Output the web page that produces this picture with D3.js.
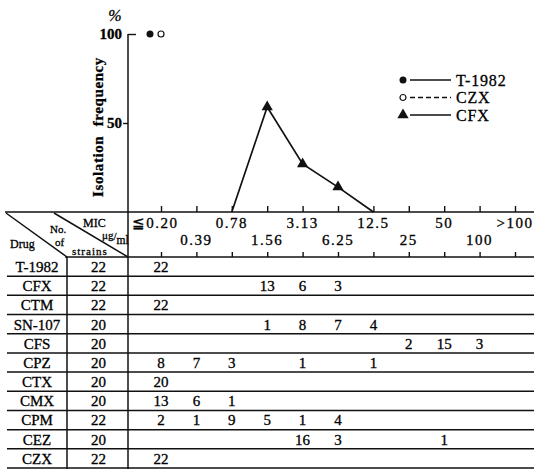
<!DOCTYPE html>
<html>
<head>
<meta charset="utf-8">
<script src="https://cdn.jsdelivr.net/npm/d3@7"></script>
<style>
  body { margin: 0; background: #fff; }
  text { font-family: "Liberation Serif", "Times New Roman", serif; fill: #000; stroke: #000; stroke-width: 0.3px; }
</style>
</head>
<body>
<div id="svg"></div>
<script>
const width = 534,
      height = 469;

// MIC classes (ug/ml)
const mics = ["≦0.20", "0.39", "0.78", "1.56", "3.13", "6.25", "12.5", "25", "50", "100", ">100"];

const drugs = ["T-1982", "CFX", "CTM", "SN-107", "CFS", "CPZ", "CTX", "CMX", "CPM", "CEZ", "CZX"];
const strains = [22, 22, 22, 20, 20, 20, 20, 20, 22, 20, 22];

// number of strains per MIC class, one row per drug (null = blank)
const counts = [
  [22, null, null, null, null, null, null, null, null, null, null],
  [null, null, null, 13, 6, 3, null, null, null, null, null],
  [22, null, null, null, null, null, null, null, null, null, null],
  [null, null, null, 1, 8, 7, 4, null, null, null, null],
  [null, null, null, null, null, null, null, 2, 15, 3, null],
  [8, 7, 3, null, 1, null, 1, null, null, null, null],
  [20, null, null, null, null, null, null, null, null, null, null],
  [13, 6, 1, null, null, null, null, null, null, null, null],
  [2, 1, 9, 5, 1, 4, null, null, null, null, null],
  [null, null, null, null, 16, 3, null, null, 1, null, null],
  [22, null, null, null, null, null, null, null, null, null, null]
];

// isolation frequency (%) plotted above the table
const t1982Mic = ["≦0.20"],
      t1982Pct = [100];
const czxMic = ["≦0.20"],
      czxPct = [100];
const cfxMic = ["0.78", "1.56", "3.13", "6.25", "12.5"],
      cfxPct = [0, 59, 27, 14, 0];

const yTicks = [50, 100];
const legendNames = ["T-1982", "CZX", "CFX"];

const svg = d3.select("#svg")
  .append("svg")
    .attr("width", width)
    .attr("height", height);

svg.append("rect")
    .attr("width", width)
    .attr("height", height)
    .attr("fill", "#fff");

const x = d3.scalePoint()
    .domain(mics)
    .range([161, 515]);

const y = d3.scaleLinear()
    .domain([0, 100])
    .range([212, 34]);

const row = d3.scaleBand()
    .domain(drugs)
    .range([257, 468]);

const axisX = 128,
      col1 = 67;

// ---- y axis
const yAxis = svg.append("g")
    .attr("transform", `translate(${axisX},0)`)
    .call(d3.axisLeft(y).tickValues(yTicks).tickSize(5).tickPadding(1).tickFormat(d3.format("d")));
yAxis.select(".domain").remove();
yAxis.selectAll("line").attr("stroke", "#111").attr("stroke-width", 1.4);
yAxis.selectAll(".tick").filter(d => d === 100).select("line").attr("x2", 8);
yAxis.selectAll("text")
    .attr("fill", "#000")
    .style("font-size", "15px")
    .style("font-weight", "bold")
    .style("font-family", "Liberation Serif");

svg.append("text")
    .attr("x", 115)
    .attr("y", 21)
    .attr("text-anchor", "middle")
    .style("font-size", "16px")
    .style("font-style", "italic")
    .text("%");

svg.append("text")
    .attr("transform", "translate(103,127) rotate(-90)")
    .attr("text-anchor", "middle")
    .style("font-size", "15px")
    .style("font-weight", "bold")
    .style("letter-spacing", "0.6px")
    .style("word-spacing", "5px")
    .text("Isolation frequency");

// ---- grid of the table
const lines = svg.append("g")
    .attr("stroke", "#111")
    .attr("stroke-width", 1.5);

lines.append("line")   // x axis / table top
    .attr("x1", 5).attr("x2", width)
    .attr("y1", y(0)).attr("y2", y(0));

lines.append("line")   // y axis through the table
    .attr("x1", axisX).attr("x2", axisX)
    .attr("y1", y(100)).attr("y2", height);

lines.append("line")
    .attr("x1", col1).attr("x2", col1)
    .attr("y1", row.range()[0]).attr("y2", height);

lines.append("line")   // header bottom
    .attr("x1", col1 - 2).attr("x2", width)
    .attr("y1", row.range()[0]).attr("y2", row.range()[0]);

lines.selectAll(".rowline")
  .data(drugs)
  .enter()
  .append("line")
    .attr("class", "rowline")
    .attr("x1", 7).attr("x2", width)
    .attr("y1", d => row(d) + row.bandwidth())
    .attr("y2", d => row(d) + row.bandwidth());

lines.append("line")
    .attr("x1", 6).attr("y1", 213)
    .attr("x2", col1).attr("y2", row.range()[0]);

lines.append("line")
    .attr("x1", 54).attr("y1", 213)
    .attr("x2", axisX).attr("y2", row.range()[0]);

// ---- MIC ticks and labels
const xTop = svg.append("g")
    .attr("transform", `translate(0,${y(0)})`)
    .call(d3.axisTop(x).tickSize(6).tickFormat(""));
xTop.select(".domain").remove();

const xLow = svg.append("g")
    .attr("transform", `translate(0,${row.range()[0]})`)
    .call(d3.axisTop(x).tickSize(5).tickFormat(""));
xLow.select(".domain").remove();

svg.selectAll(".tick line").attr("stroke", "#111").attr("stroke-width", 1.4);

svg.append("g")
  .selectAll("text")
  .data(mics)
  .enter()
  .append("text")
    .attr("x", (d, i) => x(d) + (i === 0 ? -6 : 0))
    .attr("y", (d, i) => i % 2 ? 245 : 228)
    .attr("text-anchor", "middle")
    .style("font-size", "15px")
    .style("letter-spacing", "1.5px")
    .text(d => d);

// ---- header texts
const head = svg.append("g").style("font-size", "12px");
head.append("text").attr("x", 10).attr("y", 248).text("Drug");
head.append("text").attr("x", 50).attr("y", 233).style("font-size", "11px").text("No.");
head.append("text").attr("x", 55).attr("y", 246).style("font-size", "11px").text("of");
head.append("text").attr("x", 72).attr("y", 255).style("font-size", "11px").style("letter-spacing", "1px").text("strains");
head.append("text").attr("x", 83).attr("y", 227).text("MIC");
const unit = head.append("text").attr("x", 102).attr("y", 239).style("font-size", "11px");
unit.append("tspan").text("μg");
unit.append("tspan").attr("dy", 1).text("/");
unit.append("tspan").attr("dy", 4).style("font-size", "11.5px").text("ml");

// ---- table rows
const rows = svg.append("g")
    .style("font-size", "15px")
  .selectAll("g")
  .data(drugs)
  .enter()
  .append("g")
    .attr("transform", d => `translate(0,${row(d) + row.bandwidth() / 2})`);

rows.append("text")
    .attr("x", (col1 + 7) / 2)
    .attr("dy", "0.36em")
    .attr("text-anchor", "middle")
    .text(d => d);

rows.append("text")
    .attr("x", (col1 + axisX) / 2 + 1)
    .attr("dy", "0.36em")
    .attr("text-anchor", "middle")
    .text((d, i) => strains[i]);

rows.selectAll(".val")
  .data((d, i) => counts[i].map((v, j) => ({ mic: mics[j], v })).filter(c => c.v !== null))
  .enter()
  .append("text")
    .attr("class", "val")
    .attr("x", c => x(c.mic))
    .attr("dy", "0.36em")
    .attr("text-anchor", "middle")
    .text(c => c.v);

// ---- frequency plot
const cfx = cfxMic.map((m, i) => ({ mic: m, v: cfxPct[i] }));

svg.append("path")
    .datum(cfx)
    .attr("fill", "none")
    .attr("stroke", "#111")
    .attr("stroke-width", 1.7)
    .attr("d", d3.line()
        .x(d => x(d.mic))
        .y(d => y(d.v)));

svg.append("g")
  .selectAll("path")
  .data(cfx.filter(d => d.v > 0))
  .enter()
  .append("path")
    .attr("transform", d => `translate(${x(d.mic)},${y(d.v)})`)
    .attr("fill", "#111")
    .attr("d", d3.symbol().type(d3.symbolTriangle).size(55));

svg.append("g")
  .selectAll("circle")
  .data(t1982Mic.map((m, i) => ({ mic: m, v: t1982Pct[i] })))
  .enter()
  .append("circle")
    .attr("cx", d => x(d.mic) - 11)
    .attr("cy", d => y(d.v))
    .attr("r", 3.5)
    .attr("fill", "#111");

svg.append("g")
  .selectAll("circle")
  .data(czxMic.map((m, i) => ({ mic: m, v: czxPct[i] })))
  .enter()
  .append("circle")
    .attr("cx", d => x(d.mic))
    .attr("cy", d => y(d.v))
    .attr("r", 3)
    .attr("fill", "#fff")
    .attr("stroke", "#111")
    .attr("stroke-width", 1.2);

// ---- legend
const legend = svg.append("g")
  .selectAll("g")
  .data(legendNames)
  .enter()
  .append("g")
    .attr("transform", (d, i) => `translate(403,${80 + i * 17.5})`);

legend.append("line")
    .attr("x1", 7).attr("x2", 48)
    .attr("stroke", "#111")
    .attr("stroke-width", 1.3)
    .attr("stroke-dasharray", d => d === "CZX" ? "5,3" : null);

legend.filter(d => d === "T-1982").append("circle")
    .attr("r", 3.5).attr("fill", "#111");
legend.filter(d => d === "CZX").append("circle")
    .attr("r", 3).attr("fill", "#fff").attr("stroke", "#111").attr("stroke-width", 1.2);
legend.filter(d => d === "CFX").append("path")
    .attr("fill", "#111")
    .attr("d", d3.symbol().type(d3.symbolTriangle).size(55));

legend.append("text")
    .attr("x", 53)
    .attr("dy", "0.35em")
    .style("font-size", "16px")
    .style("letter-spacing", "0.8px")
    .text(d => d);
</script>
</body>
</html>
